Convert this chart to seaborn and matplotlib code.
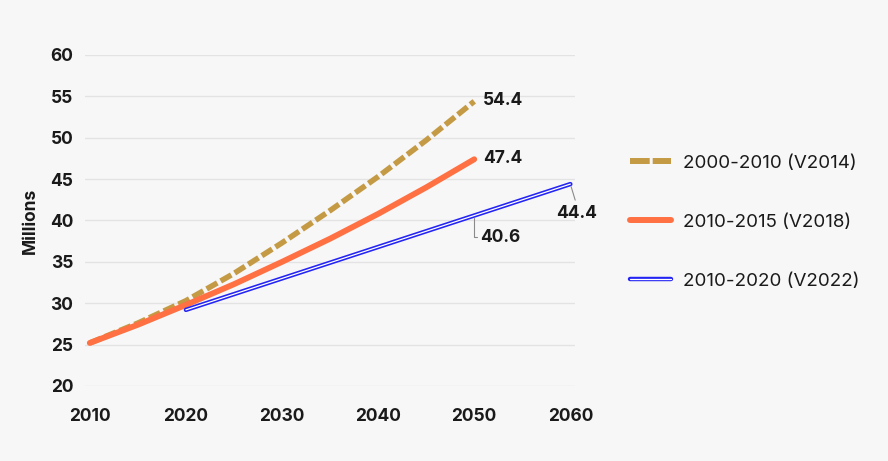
import pandas as pd
import matplotlib.pyplot as plt
import matplotlib.patheffects as pe
from matplotlib.lines import Line2D
import seaborn as sns

# Projection series (millions)
years_v2014 = [2010, 2015, 2020, 2025, 2030, 2035, 2040, 2045, 2050]
vals_v2014 = [25.2, 27.6, 30.3, 33.6, 37.3, 41.2, 45.3, 49.7, 54.4]

years_v2018 = [2010, 2015, 2020, 2025, 2030, 2035, 2040, 2045, 2050]
vals_v2018 = [25.2, 27.4, 29.8, 32.3, 35.0, 37.8, 40.8, 44.0, 47.4]

years_v2022 = [2020, 2030, 2040, 2050, 2060]
vals_v2022 = [29.2, 33.0, 36.8, 40.6, 44.4]

labels = ['2000-2010 (V2014)', '2010-2015 (V2018)', '2010-2020 (V2022)']
yticks = [20, 25, 30, 35, 40, 45, 50, 55, 60]
xticks = [2010, 2020, 2030, 2040, 2050, 2060]

df14 = pd.DataFrame({'year': years_v2014, 'value': vals_v2014})
df18 = pd.DataFrame({'year': years_v2018, 'value': vals_v2018})
df22 = pd.DataFrame({'year': years_v2022, 'value': vals_v2022})

sns.set_style('white')
plt.rcParams['font.family'] = ['Inter', 'DejaVu Sans']

bg = '#f7f7f7'
gold = '#c49a45'
orange = '#ff7043'
blue = '#2424f5'
fig = plt.figure(figsize=(8.88, 4.61), dpi=100, facecolor=bg)
ax = fig.add_axes([0.0957, 0.1627, 0.552, 0.718])
ax.set_facecolor(bg)

sns.lineplot(data=df14, x='year', y='value', ax=ax, color=gold, lw=4.0,
             linestyle=(0, (2.2, 0.7)), solid_capstyle='butt')
ax.lines[-1].set_dash_capstyle('butt')
ax.lines[-1].set_clip_on(False)

sns.lineplot(data=df18, x='year', y='value', ax=ax, color=orange, lw=4.2)
ax.lines[-1].set_clip_on(False)

blue_fx = [pe.Stroke(linewidth=3.2, foreground=blue), pe.Normal()]
sns.lineplot(data=df22, x='year', y='value', ax=ax, color='white', lw=0.9)
ax.lines[-1].set_path_effects(blue_fx)
ax.lines[-1].set_clip_on(False)

ax.set_xlim(2009.5, 2060.5)
ax.set_ylim(20, 60)
ax.set_xticks(xticks)
ax.set_yticks(yticks)
ax.grid(axis='y', color='#e3e3e3', lw=1)
ax.set_axisbelow(True)
for s in ax.spines.values():
    s.set_visible(False)
ax.tick_params(length=0, labelsize=12.5)
ax.tick_params(axis='y', pad=8.5)
ax.tick_params(axis='x', pad=16)
for t in ax.get_xticklabels() + ax.get_yticklabels():
    t.set_fontweight('bold')
    t.set_color('#1a1a1a')
ax.set_xlabel('')
ax.set_ylabel('Millions', fontsize=12.5, fontweight='bold', labelpad=8, color='#1a1a1a')

# End labels
lab_kw = dict(fontsize=12.5, fontweight='bold', color='#1a1a1a', textcoords='offset points')
ax.annotate('54.4', xy=(2050, 54.4), xytext=(6.5, 0.5), va='center', ha='left', **lab_kw)
ax.annotate('47.4', xy=(2050, 47.4), xytext=(6.5, 0.5), va='center', ha='left', **lab_kw)
ax.annotate('40.6', xy=(2050, 40.6), xytext=(4.5, -15.5), va='center', ha='left',
            arrowprops=dict(arrowstyle='-', color='#8a8a8a', lw=0.8, relpos=(0, 0.5),
                            shrinkA=0, shrinkB=2,
                            connectionstyle='angle,angleA=0,angleB=90,rad=0'),
            **lab_kw)
ax.annotate('44.4', xy=(2060, 44.4), xytext=(4.5, -21), va='center', ha='center',
            arrowprops=dict(arrowstyle='-', color='#8a8a8a', lw=0.8, relpos=(0.5, 1),
                            shrinkA=1, shrinkB=2),
            **lab_kw)

# Legend
handles = [
    Line2D([], [], color=gold, lw=4.3, linestyle=(0, (3.3, 0.5)), dash_capstyle='butt'),
    Line2D([], [], color=orange, lw=4.3),
    Line2D([], [], color='white', lw=0.9, path_effects=blue_fx),
]
leg = ax.legend(handles, labels, loc='center left', bbox_to_anchor=(0.709, 0.518),
                bbox_transform=fig.transFigure, frameon=False, fontsize=13.5,
                handlelength=2.19, handletextpad=0.64, labelspacing=2.22,
                borderpad=0, borderaxespad=0)
for t in leg.get_texts():
    t.set_color('#1a1a1a')

plt.savefig('out.png', dpi=100, facecolor=bg)
